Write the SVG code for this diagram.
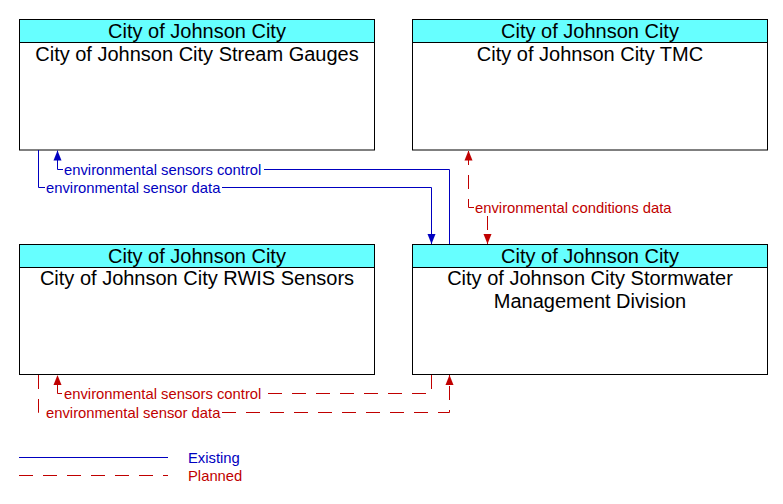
<svg xmlns="http://www.w3.org/2000/svg" width="783" height="504" viewBox="0 0 783 504">
<style>
.box{fill:#fff;stroke:#000;stroke-width:1}
.hdr{fill:#66ffff;stroke:#000;stroke-width:1}
.t{font-family:"Liberation Sans",Arial,sans-serif;font-size:20px;fill:#000;text-anchor:middle}
.lb{font-family:"Liberation Sans",Arial,sans-serif;font-size:14.8px}
.ex{fill:none;stroke:#0000c0;stroke-width:1}
.pl{fill:none;stroke:#c00000;stroke-width:1;stroke-dasharray:14 10}
.bt{fill:#0000c0}
.rt{fill:#c00000}
</style>
<defs>
<marker id="ab" viewBox="0 0 10 10" refX="10" refY="5" markerWidth="10" markerHeight="10" markerUnits="userSpaceOnUse" orient="auto"><path d="M0,1 L10,5 L0,9 z" fill="#0000c0"/></marker>
<marker id="ar" viewBox="0 0 10 10" refX="10" refY="5" markerWidth="10" markerHeight="10" markerUnits="userSpaceOnUse" orient="auto"><path d="M0,1 L10,5 L0,9 z" fill="#c00000"/></marker>
</defs>
<g id="gauges">
<rect class="box" x="19.5" y="19.5" width="355" height="130.5"/>
<rect class="hdr" x="19.5" y="19.5" width="355" height="23"/>
<text class="t" x="197" y="38">City of Johnson City</text>
<text class="t" x="197" y="61">City of Johnson City Stream Gauges</text>
</g>
<g id="tmc">
<rect class="box" x="412.5" y="19.5" width="355" height="130.5"/>
<rect class="hdr" x="412.5" y="19.5" width="355" height="23"/>
<text class="t" x="590" y="38">City of Johnson City</text>
<text class="t" x="590" y="61">City of Johnson City TMC</text>
</g>
<g id="rwis">
<rect class="box" x="19.5" y="244.5" width="355" height="130"/>
<rect class="hdr" x="19.5" y="244.5" width="355" height="23"/>
<text class="t" x="197" y="263">City of Johnson City</text>
<text class="t" x="197" y="285">City of Johnson City RWIS Sensors</text>
</g>
<g id="stormwater">
<rect class="box" x="412.5" y="244.5" width="355" height="130"/>
<rect class="hdr" x="412.5" y="244.5" width="355" height="23"/>
<text class="t" x="590" y="263">City of Johnson City</text>
<text class="t" x="590" y="285">City of Johnson City Stormwater</text>
<text class="t" x="590" y="308">Management Division</text>
</g>
<g id="connectors">
<path class="ex" d="M449.5,244 V169.5 H264"/>
<path class="ex" d="M63,169.5 H57.5 V150.5" marker-end="url(#ab)"/>
<text class="lb bt" x="64" y="174.5">environmental sensors control</text>
<path class="ex" d="M38.5,150 V187.5 H45"/>
<path class="ex" d="M222,187.5 H431.5 V244" marker-end="url(#ab)"/>
<text class="lb bt" x="46" y="193">environmental sensor data</text>
<path class="pl" d="M474,207.5 H468.5 V150.5" marker-end="url(#ar)"/>
<path class="pl" d="M487.5,216 V244" marker-end="url(#ar)"/>
<text class="lb rt" x="475" y="212.5">environmental conditions data</text>
<path class="pl" d="M431.5,375 V393.5 H264"/>
<path class="pl" d="M62,393.5 H57.5 V375" marker-end="url(#ar)"/>
<text class="lb rt" x="64" y="398.5">environmental sensors control</text>
<path class="pl" d="M38.5,375 V412.5 H45"/>
<path class="pl" d="M222,412.5 H449.5 V375" marker-end="url(#ar)"/>
<text class="lb rt" x="46" y="417.5">environmental sensor data</text>
</g>
<g id="legend">
<line class="ex" x1="19" y1="457.5" x2="168" y2="457.5"/>
<line class="pl" x1="19" y1="475.5" x2="168" y2="475.5"/>
<text class="lb bt" x="188" y="463">Existing</text>
<text class="lb rt" x="188" y="481">Planned</text>
</g>
</svg>
